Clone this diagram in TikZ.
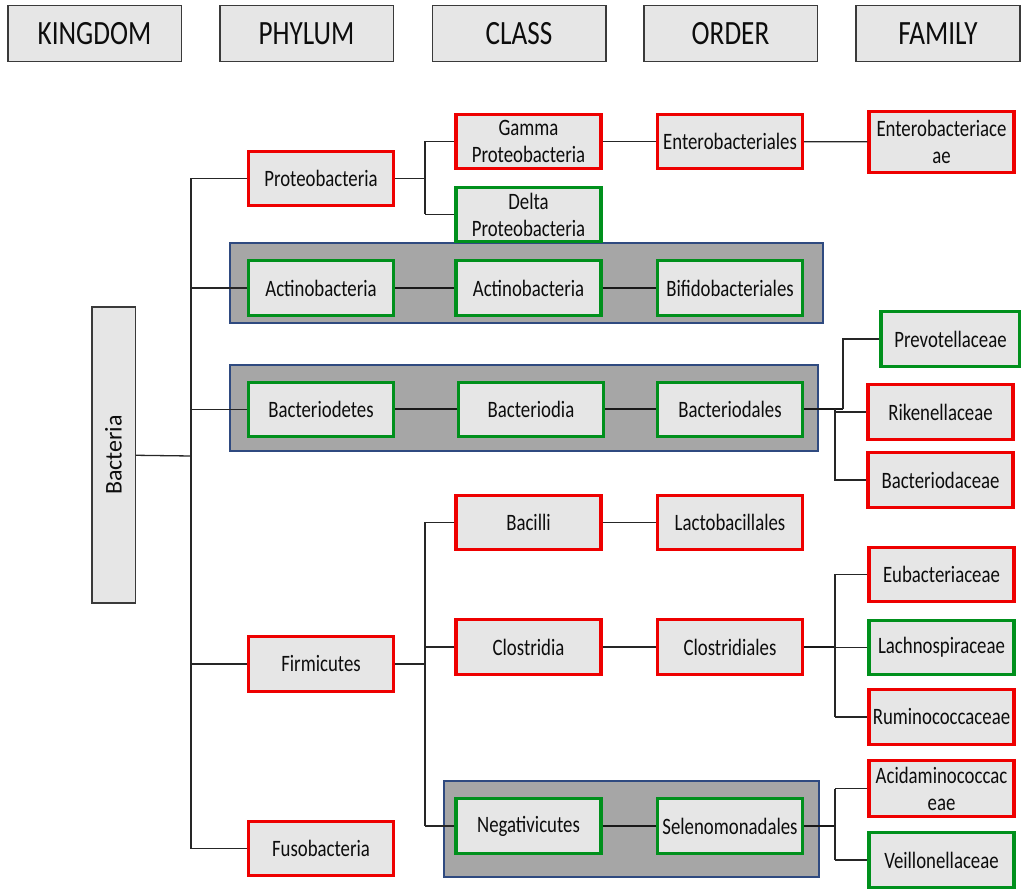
\documentclass[tikz,border=0pt]{standalone}
\usepackage{fontspec}
\setmainfont{Carlito}
\newfontfamily\boxfont[FakeStretch=0.8]{Carlito}
\definecolor{rd}{HTML}{EE0000}
\definecolor{gr}{HTML}{00901C}
\definecolor{bx}{HTML}{E6E6E6}
\definecolor{bandfill}{HTML}{A6A6A6}
\definecolor{bandline}{HTML}{2F4A80}
\definecolor{hdr}{HTML}{3A3A3A}
\definecolor{txt}{HTML}{0D0D0D}
\begin{document}
\begin{tikzpicture}[x=1pt,y=-1pt,
  hbox/.style={draw=hdr, line width=1.5pt, fill=bx, minimum width=173.5pt, minimum height=56pt, inner sep=0pt, text=txt, font=\boxfont\fontsize{34}{36}\selectfont},
  tbox/.style={draw=#1, line width=3.3pt, fill=bx, minimum width=145pt, minimum height=54.5pt, inner sep=0pt, align=center, text=txt, font=\boxfont\fontsize{23.5}{27}\selectfont},
  kbox/.style={draw=hdr, line width=1.5pt, fill=bx, minimum width=296pt, minimum height=43.5pt, inner sep=0pt, text=txt, font=\fontsize{24}{26}\selectfont, rotate=90},
  bandst/.style={draw=bandline, line width=1.2pt, fill=bandfill},
  conn/.style={draw=black!85, line width=1.3pt},
  thick conn/.style={draw=black!90, line width=2pt}
]
\useasboundingbox (0,0) rectangle (1021,890);

% headers
\node[hbox] (hK) at (94.5,33.5) {KINGDOM};
\node[hbox] (hP) at (306.5,33.5) {PHYLUM};
\node[hbox] (hC) at (519,33.5) {CLASS};
\node[hbox] (hO) at (730.5,33.5) {ORDER};
\node[hbox, minimum width=164pt] (hF) at (938,33.5) {FAMILY};

% grey bands
\draw[bandst] (230,243) rectangle (823,323);
\draw[bandst] (230,365) rectangle (818,451);
\draw[bandst] (444,781) rectangle (819,877);

% kingdom
\node[kbox] (bac) at (113.5,455) {Bacteria};

% phylum
\node[tbox=rd] (proteo) at (321,178.5) {Proteobacteria};
\node[tbox=gr] (actP) at (321,288) {Actinobacteria};
\node[tbox=gr] (bactP) at (321,409.5) {Bacteriodetes};
\node[tbox=rd] (firm) at (321,664) {Firmicutes};
\node[tbox=rd] (fuso) at (321,848.5) {Fusobacteria};

% class
\node[tbox=rd] (gamma) at (528.5,141.5) {Gamma\\Proteobacteria};
\node[tbox=gr] (delta) at (528.5,214.5) {Delta\\Proteobacteria};
\node[tbox=gr] (actC) at (528.5,288) {Actinobacteria};
\node[tbox=gr] (bactC) at (531,409.5) {Bacteriodia};
\node[tbox=rd] (bacil) at (528.5,522.5) {Bacilli};
\node[tbox=rd] (clos) at (528.5,647) {Clostridia};
\node[tbox=gr] (neg) at (528.5,826) {Negativicutes};

% order
\node[tbox=rd] (entO) at (730,141.5) {Enterobacteriales};
\node[tbox=gr] (bifO) at (730,288) {Bifidobacteriales};
\node[tbox=gr] (bactO) at (730,409.5) {Bacteriodales};
\node[tbox=rd] (lactO) at (730,522.5) {Lactobacillales};
\node[tbox=rd] (closO) at (730,647) {Clostridiales};
\node[tbox=gr] (selO) at (730,826) {Selenomonadales};

% family
\node[tbox=rd, minimum height=61pt] (entF) at (941.5,142) {Enterobacteriace\\ae};
\node[tbox=gr, minimum width=139pt] (prev) at (950.5,339) {Prevotellaceae};
\node[tbox=rd] (rik) at (940.5,412) {Rikenellaceae};
\node[tbox=rd] (bacF) at (940.5,480) {Bacteriodaceae};
\node[tbox=rd] (eub) at (941.5,574.5) {Eubacteriaceae};
\node[tbox=gr] (lach) at (941.5,647.5) {Lachnospiraceae};
\node[tbox=rd] (rum) at (941.5,717) {Ruminococcaceae};
\node[tbox=rd, minimum height=56pt] (acid) at (941.5,788.5) {Acidaminococcac\\eae};
\node[tbox=gr] (veil) at (941.5,860) {Veillonellaceae};

% trunk
\coordinate (tr) at (191,456);
\draw[conn] (bac) -- (tr);
\draw[conn] (tr |- proteo) -- (tr |- fuso);
\foreach \p in {proteo,actP,bactP,firm,fuso}{
  \draw[conn] (tr |- \p) -- (\p.west);
}

% proteobacteria
\coordinate (pj) at (425,178.5);
\draw[conn] (proteo.east) -- (pj);
\draw[conn] (pj |- gamma) -- (pj |- delta);
\draw[conn] (pj |- gamma) -- (gamma.west);
\draw[conn] (pj |- delta) -- (delta.west);
\draw[conn] (gamma) -- (entO);
\draw[conn] (entO) -- (entF);

% bands
\draw[thick conn] (actP) -- (actC);
\draw[thick conn] (actC) -- (bifO);
\draw[thick conn] (bactP) -- (bactC);
\draw[thick conn] (bactC) -- (bactO);

% bacteriodales families
\coordinate (bj1) at (843,409.5);
\coordinate (bj2) at (835,409.5);
\draw[thick conn] (bactO.east) -- (bj1);
\draw[conn] (bj1) |- (prev.west);
\draw[conn] (bj2) |- (rik.west);
\draw[conn] (bj2) |- (bacF.west);

% firmicutes
\coordinate (fj) at (425,664);
\draw[conn] (firm.east) -- (fj);
\draw[conn] (fj |- bacil) -- (fj |- neg);
\draw[conn] (fj |- bacil) -- (bacil.west);
\draw[conn] (fj |- clos) -- (clos.west);
\draw[conn] (fj |- neg) -- (neg.west);
\draw[conn] (bacil) -- (lactO);
\draw[conn] (clos) -- (closO);
\draw[thick conn] (neg) -- (selO);

% clostridiales families
\coordinate (cj) at (835,647);
\draw[thick conn] (closO.east) -- (cj);
\draw[conn] (cj |- eub) -- (cj |- rum);
\draw[conn] (cj |- eub) -- (eub.west);
\draw[conn] (cj |- lach) -- (lach.west);
\draw[conn] (cj |- rum) -- (rum.west);

% selenomonadales families
\coordinate (sj) at (835,826);
\draw[thick conn] (selO.east) -- (sj);
\draw[conn] (sj |- acid) -- (sj |- veil);
\draw[conn] (sj |- acid) -- (acid.west);
\draw[conn] (sj |- veil) -- (veil.west);
\end{tikzpicture}
\end{document}
